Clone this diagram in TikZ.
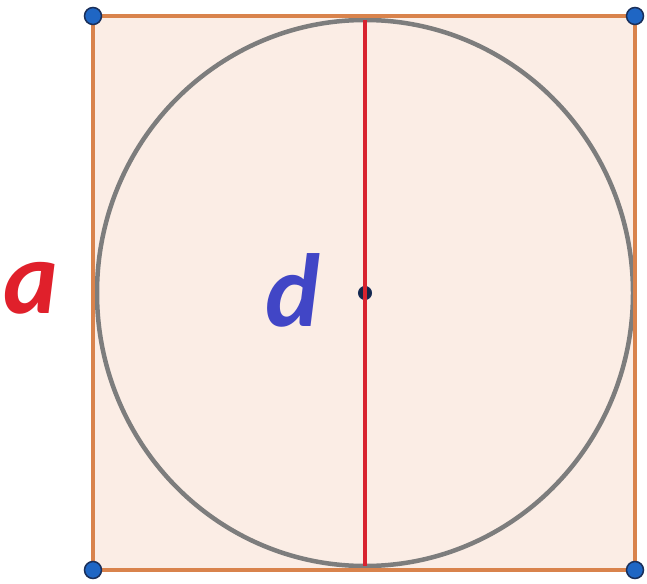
\documentclass[tikz,border=0pt]{standalone}
\usepackage{fontspec}
\newfontfamily\labfont{Carlito}
\definecolor{sqfill}{HTML}{FBEDE5}
\definecolor{sqline}{HTML}{D9834C}
\definecolor{circline}{HTML}{7D7D7D}
\definecolor{dline}{HTML}{D8232F}
\definecolor{ptblue}{HTML}{1F66C4}
\definecolor{ptedge}{HTML}{1A2F5A}
\definecolor{alab}{HTML}{E0202B}
\definecolor{dlab}{HTML}{4146C6}
\tikzset{
  corner/.style={circle,fill=ptblue,draw=ptedge,line width=1.5pt,inner sep=0pt,minimum size=17pt},
  centre/.style={circle,fill=ptedge!80!black,draw=ptedge,line width=1pt,inner sep=0pt,minimum size=13pt},
  lab/.style={font=\labfont\bfseries\itshape\fontsize{104}{104}\selectfont,inner sep=0pt}
}
\begin{document}
\begin{tikzpicture}[x=1pt,y=-1pt]
\useasboundingbox (0,0) rectangle (647,583);
\fill[white] (0,0) rectangle (647,583);
\coordinate (A) at (93,16);
\coordinate (B) at (635,16);
\coordinate (C) at (635,570);
\coordinate (D) at (93,570);
\coordinate (top) at (365,20);
\coordinate (bot) at (365,566);
\fill[sqfill] (A) rectangle (C);
\draw[circline,line width=4.5pt] (365,293) ellipse [x radius=268, y radius=273];
\draw[sqline,line width=4.5pt] (A) -- (B) -- (C) -- (D) -- cycle;
\node[centre] (O) at (365,293) {};
\draw[dline,line width=4pt] (top) -- (bot);
\node[corner] (nA) at (A) {};
\node[corner] (nB) at (B) {};
\node[corner] (nC) at (C) {};
\node[corner] (nD) at (D) {};
\node[lab,text=alab] (la) at (31,288) {a};
\node[lab,text=dlab] (ld) at (293,290) {d};
\end{tikzpicture}
\end{document}
